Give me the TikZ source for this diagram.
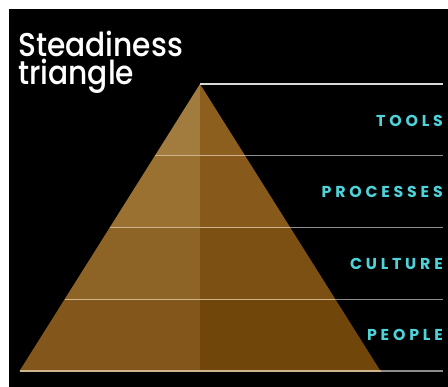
\documentclass[tikz,border=0pt]{standalone}
\usepackage{fontspec}
\setmainfont{Poppins}
\newfontfamily\titlefont{Poppins}[UprightFont={* Medium}]
\newfontfamily\labelfont{Poppins}[UprightFont={* Bold},LetterSpace=24]
\definecolor{lab}{HTML}{4FD3DA}
\definecolor{aL}{HTML}{A27B3E}\definecolor{aR}{HTML}{8D5F1F}
\definecolor{bL}{HTML}{9A7131}\definecolor{bR}{HTML}{87591B}
\definecolor{cL}{HTML}{8D6326}\definecolor{cR}{HTML}{7C5013}
\definecolor{dL}{HTML}{83571B}\definecolor{dR}{HTML}{70460B}
\definecolor{inline}{HTML}{CDB48C}
\definecolor{outline}{HTML}{8C8C8C}
\tikzset{
  lbl/.style={anchor=east,text=lab,font=\labelfont\fontsize{15.8}{15.8}\selectfont,inner sep=0pt},
  ttl/.style={anchor=base west,text=white,inner sep=0pt,xscale=0.9,align=left,font=\titlefont\fontsize{33}{28}\selectfont},
  inl/.style={draw=inline,line width=1.4pt},
  outl/.style={draw=outline,line width=1.4pt},
}
\begin{document}
\begin{tikzpicture}[x=1pt,y=-1pt]
\fill[white] (0,0) rectangle (448,387);
\fill[black] (9,9) rectangle (448,387);
\useasboundingbox (0,0) rectangle (448,387);
% layers
\fill[aL] (200,84) -- (154.875,155.75) -- (200,155.75) -- cycle;
\fill[aR] (200,84) -- (245.125,155.75) -- (200,155.75) -- cycle;
\fill[bL] (154.875,155.75) -- (109.75,227.5) -- (200,227.5) -- (200,155.75) -- cycle;
\fill[bR] (245.125,155.75) -- (290.25,227.5) -- (200,227.5) -- (200,155.75) -- cycle;
\fill[cL] (109.75,227.5) -- (64.625,299.25) -- (200,299.25) -- (200,227.5) -- cycle;
\fill[cR] (290.25,227.5) -- (335.375,299.25) -- (200,299.25) -- (200,227.5) -- cycle;
\fill[dL] (64.625,299.25) -- (19.5,371) -- (200,371) -- (200,299.25) -- cycle;
\fill[dR] (335.375,299.25) -- (380.5,371) -- (200,371) -- (200,299.25) -- cycle;
% lines
\draw[draw=white!85!black,line width=1.4pt] (200,84) -- (443,84);
\draw[inl] (154.875,155.75) -- (245.125,155.75); \draw[outl] (245.125,155.75) -- (443,155.75);
\draw[inl] (109.75,227.5) -- (290.25,227.5); \draw[outl] (290.25,227.5) -- (443,227.5);
\draw[inl] (64.625,299.25) -- (335.375,299.25); \draw[outl] (335.375,299.25) -- (443,299.25);
\draw[inl] (19.5,371) -- (380.5,371); \draw[outl] (380.5,371) -- (443,371);
% title
\node[ttl] (title) at (18,85) {Steadiness\\triangle};
% labels
\node[lbl] (tools) at (443,120.5) {TOOLS};
\node[lbl] (proc) at (443,191.5) {PROCESSES};
\node[lbl] (cult) at (443,263.5) {CULTURE};
\node[lbl] (peop) at (443,335) {PEOPLE};
\end{tikzpicture}
\end{document}
